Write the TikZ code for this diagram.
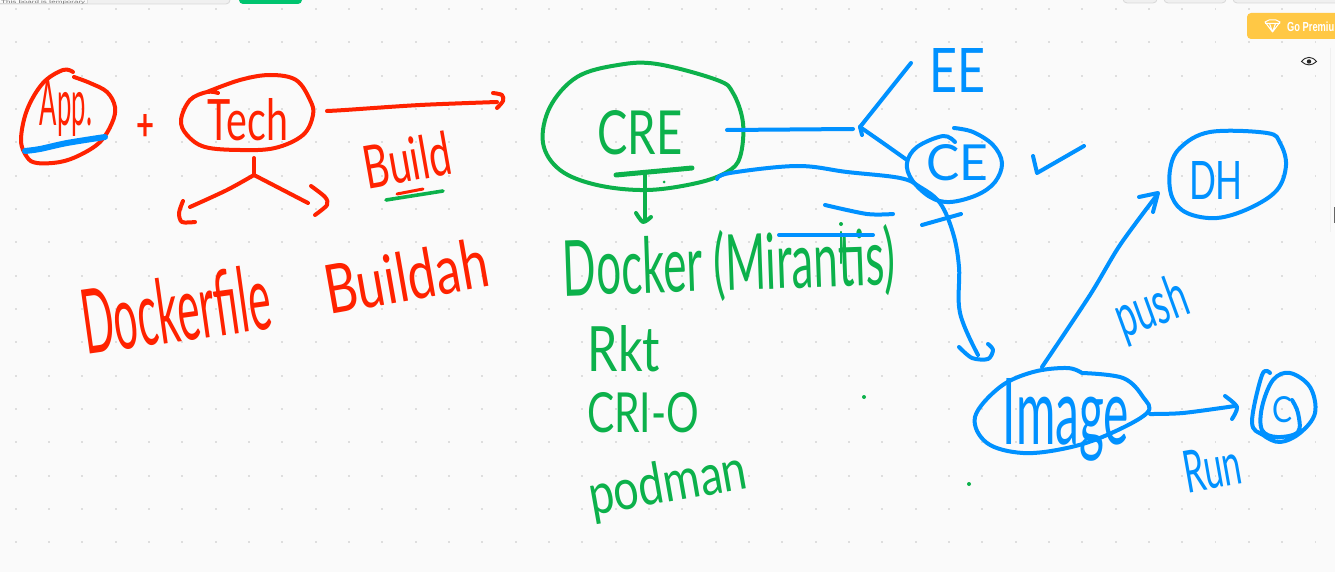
\documentclass[tikz,border=0pt]{standalone}
\usepackage{fontspec}
\usepackage{graphicx}
\setmainfont{Lato}
\newfontfamily\uifont{Liberation Sans}
\definecolor{penred}{HTML}{FF2200}
\definecolor{pengreen}{HTML}{0CB14B}
\definecolor{penblue}{HTML}{0091FF}
\definecolor{boardbg}{HTML}{FAFAFA}
\definecolor{griddot}{HTML}{DEDEDE}
\definecolor{uigrey}{HTML}{F0F0F0}
\definecolor{uiline}{HTML}{D8D8D8}
\definecolor{uigreen}{HTML}{00C46F}
\definecolor{uiyellow}{HTML}{FFC845}
\newcommand{\hw}[3]{\resizebox{#1pt}{#2pt}{#3}}
\tikzset{
  inkred/.style={draw=penred,line width=4pt,line cap=round,line join=round},
  inkgreen/.style={draw=pengreen,line width=4pt,line cap=round,line join=round},
  inkblue/.style={draw=penblue,line width=4pt,line cap=round,line join=round},
  hwred/.style={text=penred,inner sep=0pt},
  hwgreen/.style={text=pengreen,inner sep=0pt},
  hwblue/.style={text=penblue,inner sep=0pt},
  uibox/.style={fill=uigrey,draw=uiline,line width=.8pt,rounded corners=4pt}
}
\begin{document}
\begin{tikzpicture}[x=1pt,y=-1pt]
\useasboundingbox (0,0) rectangle (1335,572);
\clip (0,0) rectangle (1335,572);
\fill[boardbg] (0,0) rectangle (1335,572);
% grid
\foreach \i in {0,...,39}{\foreach \j in {0,...,16}{
  \fill[griddot] ({15.7+33.33*\i-0.9},{9+33.33*\j-0.9}) rectangle +(1.8,1.8);
}}
% UI chrome
\draw[uibox] (-6,-8) rectangle (230,4);
\draw[uiline,line width=.8pt,fill=boardbg] (-2,-6) rectangle (87,3.5);
\node[text=black!55,inner sep=0pt,font=\uifont,anchor=west] (note) at (1,2) {\hw{84}{3}{This board is temporary}};
\fill[uigreen,rounded corners=4pt] (239,-8) rectangle (302,4);
\draw[uibox] (1123,-8) rectangle (1157,3);
\draw[uibox] (1164,-8) rectangle (1226,3);
\draw[uibox] (1233,-8) rectangle (1345,3);
\fill[uiyellow,rounded corners=4pt] (1247,13) rectangle (1345,39);
\node[text=white,inner sep=0pt,font=\uifont\bfseries,anchor=west] (premium) at (1287,26.5) {\hw{47}{9.5}{Go Premiu}};
\draw[white,line width=1pt,line join=round] (1265,22) -- (1269,20) -- (1276,20) -- (1280,22) -- (1272.5,32) -- cycle (1265,23.5) -- (1280,23.5) (1269.5,23.5) -- (1272.5,32) -- (1275.5,23.5);
\fill[black!2] (1295,48) rectangle (1322,73);
\draw[black!85,line width=.9pt] (1301.5,61.5) .. controls (1306,56) and (1312,56) .. (1316.5,61.5) .. controls (1312,66) and (1306,66) .. cycle;
\fill[black!85] (1309,61.5) circle (2.2);
\draw[black!6,line width=1pt] (1330,48) -- (1330,232);
\fill[black!60] (1334,207) rectangle (1335,223);

% ---------- red group
\node[hwred] (app) at (66,108) {\hw{52}{46}{App.}};
\draw[inkred] plot[smooth,tension=.6] coordinates {(73,72) (63,70) (43,83) (27,110) (21,140) (27,157) (37,163) (60,162) (80,155) (100,142) (112,123) (115,107) (107,92) (90,83) (74,77)};
\draw[penblue,line width=6pt,line cap=round] plot[smooth] coordinates {(25,151) (40,149) (67,143) (105,137)};
\node[hwred] (plus) at (146,127) {\hw{18}{26}{\bfseries +}};
\node[hwred] (tech) at (248,120) {\hw{80}{42}{Tech}};
\draw[inkred] plot[smooth,tension=.6] coordinates {(218,93) (207,92) (190,100) (181,120) (187,135) (205,147) (240,150) (275,148) (303,135) (313,115) (310,100) (296,80) (270,75) (240,80) (207,92)};
\coordinate (techOut) at (327,111);
\coordinate (buildTip) at (497,102);
\draw[inkred] plot[smooth] coordinates {(techOut) (345,110) (420,105) (buildTip)};
\draw[inkred] plot[smooth] coordinates {(493,93) (502,95) (503,101) (497,108)};
\node[hwred,rotate=10] (build) at (407,160) {\hw{88}{44}{Build}};
\draw[penred,line width=3pt,line cap=round] (397,194) -- (423,189);
\draw[pengreen,line width=3.6pt,line cap=round] (386,200) -- (443,191);
\coordinate (techDown) at (254,158);
\coordinate (fork) at (254,175);
\draw[inkred] (techDown) -- (fork);
\draw[inkred] plot[smooth] coordinates {(fork) (227,190) (190,207)};
\draw[inkred] (fork) -- (308,203);
\draw[inkred] plot[smooth] coordinates {(183,201) (179,213) (182,222) (195,222)};
\draw[inkred] plot[smooth] coordinates {(311,186) (325,197) (327,205) (315,215)};
\node[hwred,rotate=8] (dockerfile) at (176,309) {\hw{190}{66}{Dockerfile}};
\node[hwred,rotate=10] (buildah) at (406,276) {\hw{165}{50}{Buildah}};

% ---------- green group
\node[hwgreen] (cre) at (640,133) {\hw{85}{44}{CRE}};
\draw[inkgreen] plot[smooth cycle,tension=.6] coordinates {(618,65) (657,64) (717,80) (733,93) (743,123) (740,157) (727,172) (697,183) (647,190) (597,185) (560,170) (543,143) (550,107) (577,77)};
\coordinate (creBar) at (645,173);
\coordinate (creTip) at (645,219);
\draw[pengreen,line width=5pt,line cap=round] (616,175) -- (692,168);
\draw[inkgreen] (creBar) -- (creTip);
\draw[inkgreen] plot[smooth] coordinates {(636,213) (643,222) (651,217)};
\fill[pengreen] (664,182) circle (1.5);
\node[hwgreen,rotate=2] (docker) at (729,266) {\hw{332}{60}{Docker (Mirantis)}};
\node[hwgreen] (rkt) at (624,349) {\hw{72}{46}{Rkt}};
\node[hwgreen] (crio) at (643,413) {\hw{112}{40}{CRI-O}};
\node[hwgreen,rotate=10] (podman) at (668,486) {\hw{160}{42}{podman}};
\fill[pengreen] (864,397) circle (2);
\fill[pengreen] (969,484) circle (2);
\fill[pengreen] (841,224) circle (2);
\draw[inkgreen,line width=2.5pt] (841,232) -- (841,263);

% ---------- blue group
\draw[inkblue] plot[smooth] coordinates {(825,205) (867,214) (893,214)};
\draw[inkblue] (779,235) -- (873,235);
\node[hwblue] (ee) at (957,70) {\hw{56}{44}{EE}};
\node[hwblue] (ce) at (957,163) {\hw{62}{36}{CE}};
\draw[inkblue] plot[smooth,tension=.6] coordinates {(954,128) (973,132) (993,145) (1002,163) (995,182) (977,195) (950,202) (930,197) (912,180) (907,163) (917,147) (943,136) (955,142)};
\coordinate (creOut) at (727,130);
\coordinate (split) at (860,127);
\coordinate (eeIn) at (911,63);
\coordinate (ceIn) at (907,160);
\draw[inkblue] (creOut) -- (853,129);
\draw[inkblue] (split) -- (eeIn);
\draw[inkblue] (split) -- (862,135);
\draw[inkblue] plot[smooth] coordinates {(split) (883,143) (ceIn)};
\coordinate (creLow) at (717,179);
\coordinate (imgTip) at (978,355);
\draw[inkblue] plot[smooth,tension=.6] coordinates {(creLow) (730,173) (797,166) (847,172) (900,178) (920,187) (940,203) (953,233) (959,267) (960,313) (imgTip)};
\draw[inkblue] plot[smooth] coordinates {(959,347) (972,358) (988,359) (993,350) (988,344)};
\draw[inkblue] (922,225) -- (961,214);
\draw[inkblue] (1033,156) -- (1037,173) -- (1084,146);
\node[hwblue] (dh) at (1216,180) {\hw{54}{38}{DH}};
\draw[inkblue] plot[smooth cycle,tension=.6] coordinates {(1210,132) (1267,133) (1280,143) (1286,165) (1277,190) (1250,208) (1217,218) (1187,213) (1172,197) (1170,170) (1180,148)};
\node[hwblue] (image) at (1066,420) {\hw{126}{66}{Image}};
\draw[inkblue] plot[smooth,tension=.6] coordinates {(1082,373) (1067,368) (1033,372) (1000,387) (975,417) (987,443) (1023,453) (1067,448) (1107,435) (1147,413) (1143,397) (1123,378) (1082,373)};
\coordinate (imgTop) at (1042,367);
\coordinate (dhIn) at (1157,195);
\draw[inkblue] plot[smooth] coordinates {(imgTop) (1090,295) (1120,245) (dhIn)};
\draw[inkblue] (1139,197) -- (1158,193) -- (1153,212);
\node[hwblue,rotate=20] (push) at (1152,310) {\hw{74}{44}{push}};
\coordinate (imgOut) at (1150,414);
\coordinate (cIn) at (1235,406);
\draw[inkblue] plot[smooth] coordinates {(imgOut) (1183,413) (cIn)};
\draw[inkblue] plot[smooth] coordinates {(1225,396) (1237,407) (1232,419)};
\node[hwblue,rotate=10] (run) at (1212,468) {\hw{58}{42}{Run}};
\node[hwblue] (cont) at (1282,410) {\hw{20}{26}{C}};
\draw[inkblue] plot[smooth,tension=.6] coordinates {(1270,373) (1262,375) (1252,422) (1263,435) (1280,442) (1300,433) (1315,413) (1310,387) (1290,373) (1273,380) (1262,407) (1262,430) (1277,437) (1298,432) (1298,413) (1292,400)};
\end{tikzpicture}
\end{document}
